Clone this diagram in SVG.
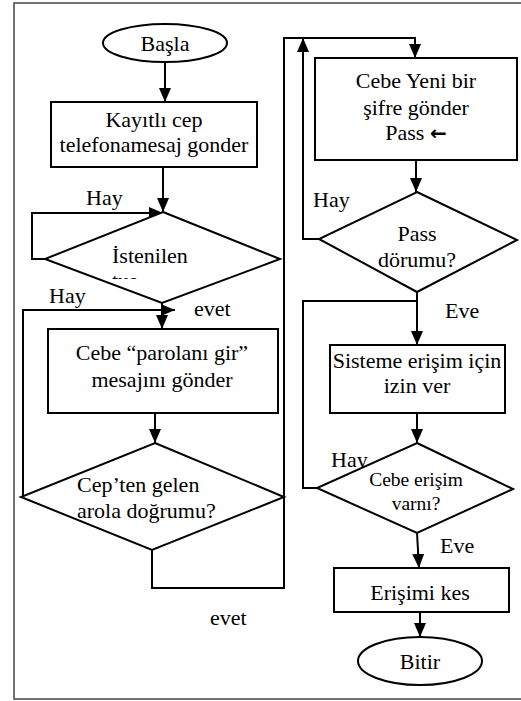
<svg xmlns="http://www.w3.org/2000/svg" width="521" height="701" viewBox="0 0 521 701">
<style>
.sh{fill:#fff;stroke:#000;stroke-width:2}
.ln{fill:none;stroke:#000;stroke-width:2}
.c{text-anchor:middle}
.s{font-size:19.5px}
</style>
<defs>
<marker id="ah" viewBox="0 0 14 12" refX="14" refY="6" markerWidth="14" markerHeight="12" markerUnits="userSpaceOnUse" orient="auto">
<path d="M0,0 L14,6 L0,12 z" fill="#000"/>
</marker>
<clipPath id="clipTus"><rect x="100" y="260" width="100" height="19"/></clipPath>
</defs>
<rect x="14" y="3" width="520" height="696" fill="none" stroke="#444" stroke-width="1.5"/>
<g id="connectors">
<line class="ln" x1="165" y1="62" x2="165" y2="102" marker-end="url(#ah)"/>
<line class="ln" x1="163" y1="167" x2="163" y2="212" marker-end="url(#ah)"/>
<polyline class="ln" points="45,259 32,259 32,213 163,213" marker-end="url(#ah)"/>
<line class="ln" x1="162" y1="303" x2="162" y2="329" marker-end="url(#ah)"/>
<polyline class="ln" points="21,497 23,497 23,310 175,310" marker-end="url(#ah)"/>
<line class="ln" x1="155" y1="413" x2="155" y2="443" marker-end="url(#ah)"/>
<polyline class="ln" points="152,550 152,588 284,588 284,38 415,38 415,58" marker-end="url(#ah)"/>
<line class="ln" x1="416" y1="160" x2="416" y2="192" stroke-width="3" marker-end="url(#ah)"/>
<polyline class="ln" points="319,239 303,239 303,38" marker-end="url(#ah)"/>
<line class="ln" x1="417" y1="292" x2="417" y2="345" marker-end="url(#ah)"/>
<polyline class="ln" points="317,488 303,488 303,301 417,301"/>
<line class="ln" x1="417" y1="413" x2="417" y2="443" marker-end="url(#ah)"/>
<line class="ln" x1="417" y1="533" x2="419" y2="568" marker-end="url(#ah)"/>
<line class="ln" x1="420" y1="612" x2="420" y2="637" marker-end="url(#ah)"/>
</g>
<g font-family="Liberation Serif, Times New Roman, serif" font-size="22" fill="#000">
<g id="labels">
<text x="86" y="205">Hay</text>
<text x="49" y="303">Hay</text>
<text x="194" y="316">evet</text>
<text x="210" y="625">evet</text>
<text x="313" y="207">Hay</text>
<text x="445" y="318">Eve</text>
<text x="331" y="467">Hay</text>
<text x="440" y="553">Eve</text>
</g>
<g id="basla">
<ellipse class="sh" cx="165" cy="43" rx="62" ry="19"/>
<text class="c" x="165" y="51">Başla</text>
</g>
<g id="kayitli">
<rect class="sh" x="51" y="102" width="206" height="65"/>
<text class="c" x="154" y="127">Kayıtlı cep</text>
<text class="c" x="154" y="152">telefonamesaj gonder</text>
</g>
<g id="istenilen">
<polygon class="sh" points="163,212 280,259 162,303 45,259"/>
<text x="112" y="263">İstenilen</text>
<text x="112" y="288" clip-path="url(#clipTus)">tuş</text>
</g>
<g id="parola-gir">
<rect class="sh" x="48" y="329" width="230" height="84"/>
<text class="c" x="162" y="360">Cebe “parolanı gir”</text>
<text class="c" x="162" y="387">mesajını gönder</text>
</g>
<g id="parola-dogru">
<polygon class="sh" points="155,443 284,497 152,550 21,497"/>
<text x="77" y="492">Cep’ten gelen</text>
<text x="77" y="518">arola doğrumu?</text>
</g>
<g id="yeni-sifre">
<rect class="sh" x="315" y="58" width="202" height="102"/>
<text class="c" x="416" y="88">Cebe Yeni bir</text>
<text class="c" x="416" y="115">şifre gönder</text>
<text class="c" x="416" y="140">Pass <tspan font-family="DejaVu Sans, sans-serif" font-size="20" font-weight="bold">←</tspan></text>
</g>
<g id="pass-durumu">
<polygon class="sh" points="417,192 517,240 417,292 319,239"/>
<text class="c" x="417" y="241">Pass</text>
<text class="c" x="417" y="267">dörumu?</text>
</g>
<g id="izin-ver">
<rect class="sh" x="330" y="345" width="175" height="68"/>
<text class="c" x="417" y="368">Sisteme erişim için</text>
<text class="c" x="417" y="393">izin ver</text>
</g>
<g id="erisim-var">
<polygon class="sh" points="417,443 513,489 417,533 317,488"/>
<text class="c s" x="416" y="486">Cebe erişim</text>
<text class="c s" x="416" y="510">varnı?</text>
</g>
<g id="erisimi-kes">
<rect class="sh" x="334" y="568" width="175" height="44"/>
<text class="c" x="420" y="600">Erişimi kes</text>
</g>
<g id="bitir">
<ellipse class="sh" cx="420" cy="661" rx="62" ry="24"/>
<text class="c" x="420" y="669">Bitir</text>
</g>
</g>
</svg>
